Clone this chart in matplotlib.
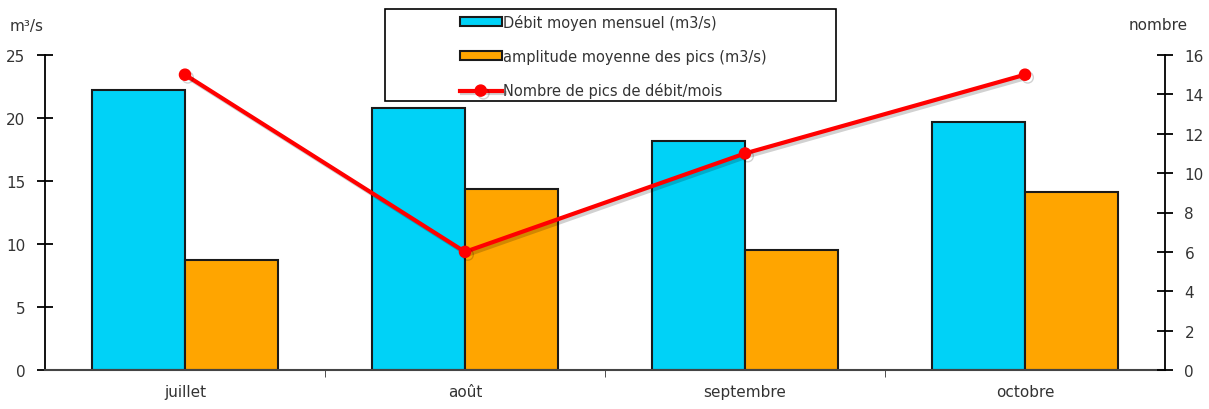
import matplotlib
matplotlib.use("Agg")
import matplotlib.pyplot as plt
import matplotlib.patheffects as pe
from matplotlib.patches import Rectangle
import numpy as np

months = ["juillet", "août", "septembre", "octobre"]
debit = [22.2, 20.8, 18.2, 19.7]
amplitude = [8.7, 14.4, 9.5, 14.1]
nb_pics = [15, 6, 11, 15]
left_ticks = [0, 5, 10, 15, 20, 25]
right_ticks = [0, 2, 4, 6, 8, 10, 12, 14, 16]

plt.rcParams['font.family'] = ['DejaVu Sans']
fig = plt.figure(figsize=(12.09, 4.10), dpi=100)
W, H = 1209, 410
ax = fig.add_axes([45 / W, 1 - 371 / H, (1165 - 45) / W, (371 - 56) / H])
x = np.arange(len(months))
bw = 0.332
b1 = ax.bar(x - bw / 2, debit, bw, color="#00D2F7", edgecolor="#1a1a1a", linewidth=1.5,
            label="Débit moyen mensuel (m3/s)", zorder=2)
b2 = ax.bar(x + bw / 2, amplitude, bw, color="#FFA500", edgecolor="#1a1a1a", linewidth=1.5,
            label="amplitude moyenne des pics (m3/s)", zorder=2)
ax.set_xlim(-0.5, 3.5)
ax.set_ylim(0, 25)
ax.set_yticks(left_ticks)
ax.set_xticks(x)
ax.set_xticklabels(months, fontsize=11, color="#333333")
ax.set_xticks(np.arange(0.5, 3.5, 1), minor=True)
ax.tick_params(axis="x", which="major", length=0, pad=10)
ax.tick_params(axis="x", which="minor", length=5, direction="out", color="#333333")
ax.tick_params(axis="y", direction="inout", length=12, width=1.3, labelsize=11,
               labelcolor="#333333", pad=8)
for s in ["top", "right"]:
    ax.spines[s].set_visible(False)
ax.spines["left"].set_linewidth(1.3)
ax.spines["bottom"].set_color("#444444")
ax.spines["bottom"].set_linewidth(1.5)

ax2 = ax.twinx()
ax2.set_ylim(0, 16)
ax2.set_yticks(right_ticks)
line, = ax2.plot(x, nb_pics, color="#FF0000", lw=3, marker="o", markersize=8,
                 label="Nombre de pics de débit/mois", zorder=3,
                 path_effects=[pe.SimpleLineShadow(offset=(2, -2), alpha=0.18), pe.Normal()])
for s in ["top", "left", "bottom"]:
    ax2.spines[s].set_visible(False)
ax2.spines["right"].set_linewidth(1.3)
ax2.tick_params(axis="y", direction="inout", length=12, width=1.3, labelsize=11,
                labelcolor="#333333", pad=8)

fig.text(10 / W, 1 - 26 / H, "m³/s", fontsize=11, color="#333333", va="center", ha="left")
fig.text(1188 / W, 1 - 26 / H, "nombre", fontsize=11, color="#333333", va="center", ha="right")

fig.patches.append(Rectangle((385 / W, 1 - 102 / H), (836 - 385) / W, (102 - 10) / H,
                             transform=fig.transFigure, fill=True, facecolor="white",
                             edgecolor="black", linewidth=1.2, zorder=5))
leg = fig.legend([b1, b2, line], [b1.get_label(), b2.get_label(), line.get_label()],
                 loc="upper left", bbox_to_anchor=(453 / W, 1 - 8 / H), frameon=False,
                 fontsize=10.5, handlelength=2.9, handleheight=0.6, handletextpad=0.1,
                 labelspacing=1.3, borderaxespad=0, borderpad=0.45)
for t in leg.get_texts():
    t.set_color("#333333")
leg.set_zorder(6)

fig.savefig("out.png", dpi=100)
